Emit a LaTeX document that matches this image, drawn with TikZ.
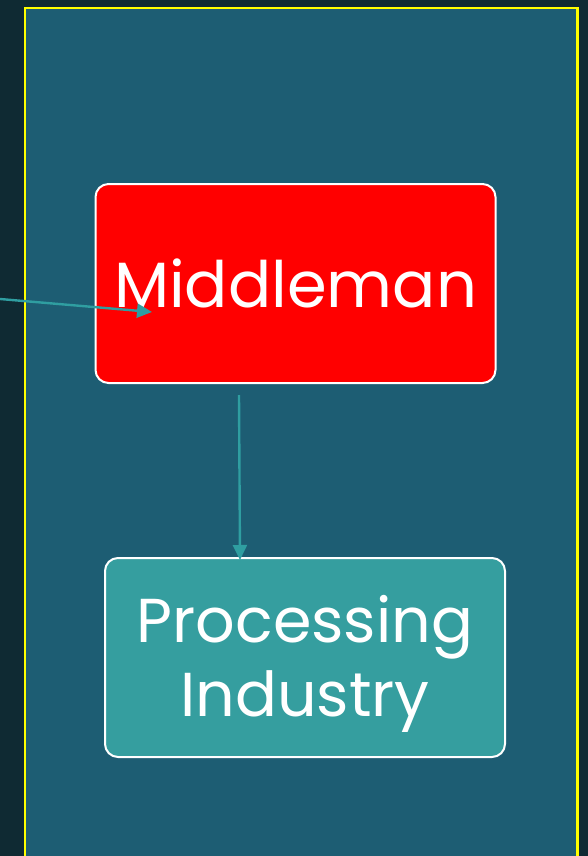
\documentclass[tikz,border=0pt]{standalone}
\usepackage{fontspec}
\setmainfont{Poppins}
\usetikzlibrary{arrows.meta,calc}
\definecolor{darkbg}{HTML}{0F2A33}
\definecolor{panelbg}{HTML}{1D5D73}
\definecolor{tealfill}{HTML}{359E9F}
\definecolor{arrowc}{HTML}{2F9EA1}
\definecolor{borderyellow}{HTML}{FFFF00}
\tikzset{
  box/.style={draw=white, line width=2pt, rounded corners=13pt, minimum width=400pt, minimum height=199pt, text=white, align=center, inner sep=0pt},
  conn/.style={draw=arrowc, line width=2.4pt, -{Triangle[length=15pt,width=14pt]}},
}
\begin{document}
\begin{tikzpicture}[x=1pt,y=-1pt]
\useasboundingbox (0,0) rectangle (588,856);
\clip (0,0) rectangle (588,856);
\fill[darkbg] (0,0) rectangle (588,856);
\fill[panelbg] (25,8) rectangle (577.5,870);
\draw[borderyellow, line width=2.8pt] (25,8) rectangle (577.5,870);
\node[box, fill=red, font=\fontsize{64}{73}\selectfont] (mid) at (295.5,283.5) {\raisebox{1.5pt}{Middleman}};
\node[box, fill=tealfill, label={[text=white, align=center, font=\fontsize{62}{74}\selectfont, yshift=-6pt]center:Processing\\Industry}] (proc) at (305,657.5) {};
\coordinate (start) at (0,299);
\coordinate (midin) at (152,312);
\coordinate (down1) at (239,395);
\coordinate (procin) at (240,560);
\draw[conn] (start) -- (midin);
\draw[conn] (down1) -- (procin);
\end{tikzpicture}
\end{document}
